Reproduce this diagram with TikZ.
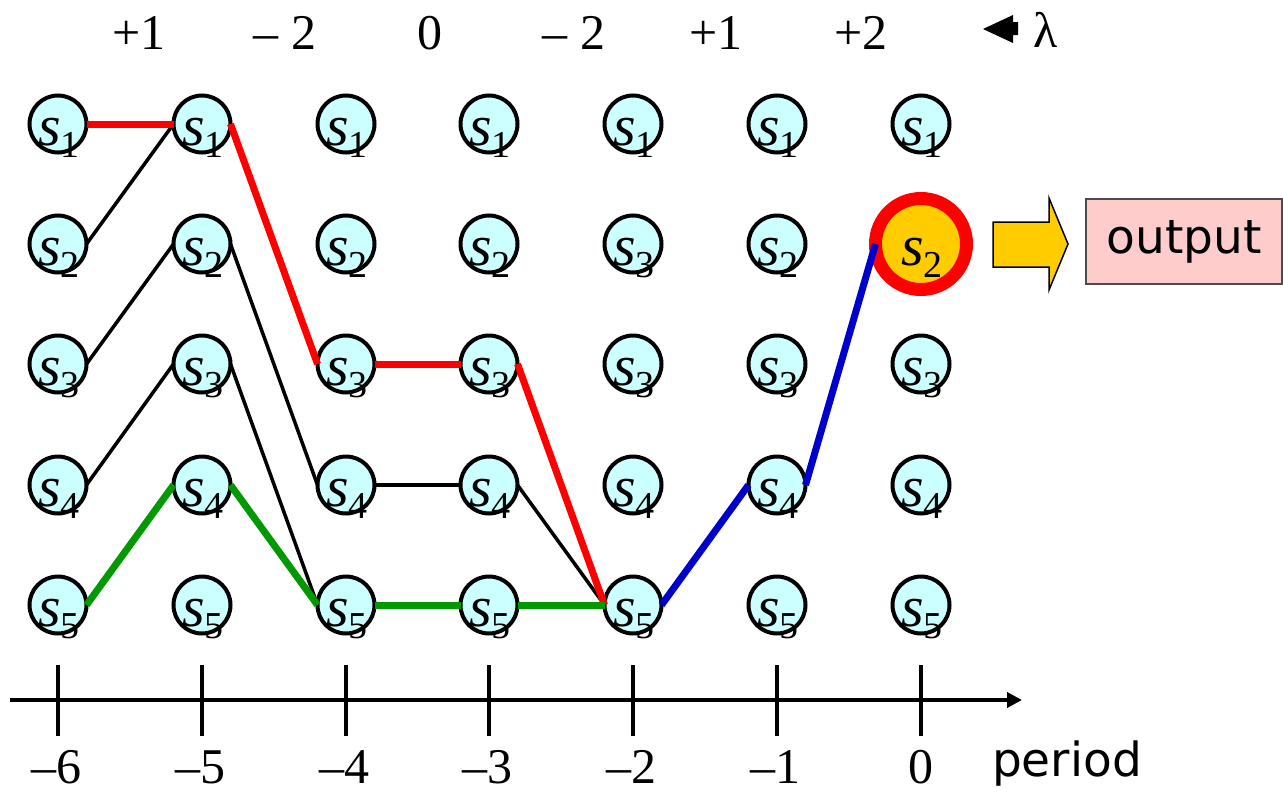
\documentclass[tikz,border=0pt]{standalone}
\usepackage{fontspec}
\setmainfont{Liberation Serif}
\newfontfamily\handfont{DejaVu Sans}
\usetikzlibrary{arrows.meta}
\definecolor{cellfill}{HTML}{CCFFFF}
\definecolor{pathred}{HTML}{FF0000}
\definecolor{pathgreen}{HTML}{009900}
\definecolor{pathblue}{HTML}{0000CC}
\definecolor{gold}{HTML}{FFCC00}
\definecolor{outpink}{HTML}{FFCCCC}
\newcommand{\stlab}[1]{\textit{s}\raisebox{-12pt}{\fontsize{38}{38}\selectfont #1}}
\begin{document}
\begin{tikzpicture}[x=1pt,y=-1pt,
  st/.style={circle,fill=cellfill,draw=black,line width=4pt,minimum size=57pt,inner sep=0pt,outer sep=0pt},
  final/.style={circle,fill=gold,draw=pathred,line width=13pt,minimum size=91pt,inner sep=0pt,outer sep=0pt},
  slab/.style={anchor=base,inner sep=0pt,font=\fontsize{58}{58}\selectfont},
  num/.style={anchor=base,inner sep=0pt,font=\fontsize{50}{50}\selectfont},
  hand/.style={inner sep=0pt,font=\handfont\fontsize{47}{47}\selectfont},
  blk/.style={line width=3.5pt,draw=black},
  redp/.style={line width=7pt,draw=pathred},
  greenp/.style={line width=7pt,draw=pathgreen},
  bluep/.style={line width=7pt,draw=pathblue},
  outbox/.style={rectangle,fill=outpink,draw=black!70,line width=1.5pt,minimum width=196pt,minimum height=85pt,inner sep=0pt},
  axisline/.style={line width=3.6pt,-{Triangle[length=15pt,width=15pt]}},
  tickline/.style={line width=3.4pt}
]
\useasboundingbox (0,0) rectangle (1283,795);

% state circles
\foreach \c/\x in {0/58,1/202,2/346,3/489,4/633,5/777,6/921}{
  \foreach \r/\y in {1/124,2/244,3/364,4/485,5/605}{
    \ifnum\c\r=62 \else
      \node[st] (n\c\r) at (\x,\y) {};
    \fi
  }
}
\node[final] (n62) at (921,244) {};

% connectors (black first)
\draw[blk] (n02.east) -- (n11.west);
\draw[blk] (n03.east) -- (n12.west);
\draw[blk] (n04.east) -- (n13.west);
\draw[blk] (n12.east) -- (n24.west);
\draw[blk] (n13.east) -- (n25.west);
\draw[blk] (n24.east) -- (n34.west);
\draw[blk] (n34.east) -- (n45.west);
% red path
\draw[redp] (n01.east) -- (n11.west);
\draw[redp] (n11.east) -- (n23.west);
\draw[redp] (n23.east) -- (n33.west);
\draw[redp] (n33.east) -- (n45.west);
% green path
\draw[greenp] (n05.east) -- (n14.west);
\draw[greenp] (n14.east) -- (n25.west);
\draw[greenp] (n25.east) -- (n35.west);
\draw[greenp] (n35.east) -- (n45.west);
% blue path
\draw[bluep] (n45.east) -- (n54.west);
\draw[bluep] (n54.east) -- (n62.west);

% state labels
\foreach \c/\x in {0/58,1/202,2/346,3/489,4/633,5/777,6/921}{
  \foreach \r/\y in {1/124,2/244,3/364,4/485,5/605}{
    \ifnum\c\r=42 \def\lab{3}\else \edef\lab{\r}\fi
    \node[slab] (l\c\r) at (\x+1,\y+21) {\stlab{\lab}};
  }
}

% top lambda labels
\node[num] (d1) at (139,49) {+1};
\node[num] (d2) at (285,49) {– 2};
\node[num] (d3) at (430,49) {0};
\node[num] (d4) at (574,49) {– 2};
\node[num] (d5) at (716,49) {+1};
\node[num] (d6) at (861,49) {+2};
\fill (983,29) -- (1013,15) -- (1013,22) -- (1018,22) -- (1018,35) -- (1013,35) -- (1013,43) -- cycle;
\node[num] (lam) at (1046,47) {λ};

% output arrow and box
\draw[fill=gold,line width=1.5pt] (993,222) -- (1049,222) -- (1049,198) -- (1068,244) -- (1049,290) -- (1049,267) -- (993,267) -- cycle;
\node[outbox,hand] (out) at (1184,241.5) {output};

% time axis
\coordinate (axs) at (10,700);
\coordinate (axe) at (1022,700);
\draw[axisline] (axs) -- (axe);
\foreach \x in {58,202,346,489,633,777,921}{
  \draw[tickline] (\x,665) -- (\x,736);
}
\node[num] (p6) at (56,783) {–6};
\node[num] (p5) at (200,783) {–5};
\node[num] (p4) at (344,783) {–4};
\node[num] (p3) at (487,783) {–3};
\node[num] (p2) at (631,783) {–2};
\node[num] (p1) at (775,783) {–1};
\node[num] (p0) at (921,783) {0};
\node[hand,anchor=base] (per) at (1067,776) {period};
\end{tikzpicture}
\end{document}
